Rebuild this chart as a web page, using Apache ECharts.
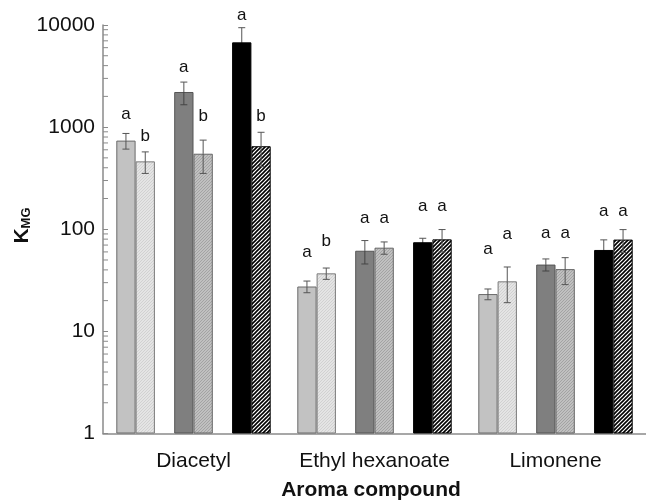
<!DOCTYPE html>
<html><head><meta charset="utf-8">
<script src="https://cdn.jsdelivr.net/npm/echarts@6/dist/echarts.min.js"></script>
<style>html,body{margin:0;padding:0;background:#fff}#c{width:646px;height:501px}</style>
</head><body><div id="c"></div>
<script>
const FONT = "'Liberation Sans', Arial, Helvetica, sans-serif";
const categories = ['Diacetyl', 'Ethyl hexanoate', 'Limonene'];
const minorTickValues = [2,3,4,5,6,7,8,9, 20,30,40,50,60,70,80,90, 200,300,400,500,600,700,800,900, 2000,3000,4000,5000,6000,7000,8000,9000];

// series values (K_MG), ± error, significance letters, letter anchor heights
const s1 = [738, 27.5, 23.2];   const e1 = [129, 3.6, 2.8];   const l1 = ['a','a','a']; const h1 = [1341, 59, 63];
const s2 = [462, 37, 30.9];     const e2 = [110, 4.7, 11.8];  const l2 = ['b','b','a']; const h2 = [816, 76, 89];
const s3 = [2208, 61.6, 45.1];  const e3 = [553, 15.9, 6.1];  const l3 = ['a','a','a']; const h3 = [3874, 129, 91];
const s4 = [549, 66, 40.7];     const e4 = [197, 9.1, 12];    const l4 = ['b','a','a']; const h4 = [1262, 129, 91];
const s5 = [6761, 74.6, 62.7];  const e5 = [2650, 7, 16];     const l5 = ['a','a','a']; const h5 = [12340, 169, 151];
const s6 = [650, 79.6, 79.2];   const e6 = [240, 19.7, 20];   const l6 = ['b','a','a']; const h6 = [1262, 169, 151];

function hatch(bg, fg, size, lw) {
  const c = document.createElement('canvas'); c.width = c.height = size;
  const g = c.getContext('2d');
  g.fillStyle = bg; g.fillRect(0, 0, size, size);
  g.strokeStyle = fg; g.lineWidth = lw; g.beginPath();
  g.moveTo(0, size); g.lineTo(size, 0);
  g.moveTo(-size/2, size/2); g.lineTo(size/2, -size/2);
  g.moveTo(size/2, size*1.5); g.lineTo(size*1.5, size/2);
  g.stroke();
  return c;
}

const BW = 19.3;
const defs = [
  {vals: s1, errs: e1, let: l1, lh: h1, slot: 0, color: '#c2c2c2', border: '#6a6a6a', low: '#555'},
  {vals: s2, errs: e2, let: l2, lh: h2, slot: 1, color: {image: hatch('#e4e4e4', '#cbcbcb', 3, 0.8), repeat: 'repeat'}, border: '#7a7a7a', low: '#555'},
  {vals: s3, errs: e3, let: l3, lh: h3, slot: 3, color: '#7f7f7f', border: '#555', low: '#444'},
  {vals: s4, errs: e4, let: l4, lh: h4, slot: 4, color: {image: hatch('#c0c0c0', '#9c9c9c', 3, 0.8), repeat: 'repeat'}, border: '#666', low: '#555'},
  {vals: s5, errs: e5, let: l5, lh: h5, slot: 6, color: '#000', border: '#000', low: '#000'},
  {vals: s6, errs: e6, let: l6, lh: h6, slot: 7, color: {image: hatch('#ffffff', '#000000', 4, 1.6), repeat: 'repeat'}, border: '#000', low: '#555'}
];

const series = [];
// 8 bar slots per category (slots 2 and 5 are spacers)
for (let slot = 0; slot < 8; slot++) {
  const d = defs.find(x => x.slot === slot);
  series.push({
    type: 'bar', name: d ? 'S' + (defs.indexOf(d) + 1) : '',
    data: d ? d.vals.slice() : [null, null, null],
    barWidth: BW, barGap: '0%',
    itemStyle: d ? {color: d.color, borderColor: d.border, borderWidth: 1} : {},
    silent: true, z: 2
  });
}
// error bars + letters
defs.forEach(d => {
  series.push({
    type: 'custom', clip: false, z: 5, silent: true,
    data: d.vals.map((v, i) => [i, v, d.errs[i], d.lh[i]]),
    renderItem: function (params, api) {
      const ci = api.value(0), v = api.value(1), e = api.value(2), lh = api.value(3);
      const x = api.coord([ci, v])[0] + (d.slot - 3.5) * BW;
      const yv = api.coord([ci, v])[1];
      const yt = api.coord([ci, v + e])[1];
      const yb = api.coord([ci, Math.max(v - e, 1)])[1];
      const yl = api.coord([ci, lh])[1];
      const cw = 3.5;
      const st = {stroke: '#555', lineWidth: 1};
      return {type: 'group', children: [
        {type: 'line', shape: {x1: x, y1: yt, x2: x, y2: yv}, style: st},
        {type: 'line', shape: {x1: x - cw, y1: yt, x2: x + cw, y2: yt}, style: st},
        {type: 'line', shape: {x1: x, y1: yv, x2: x, y2: yb}, style: {stroke: d.low, lineWidth: 1}},
        {type: 'line', shape: {x1: x - cw, y1: yb, x2: x + cw, y2: yb}, style: {stroke: d.low, lineWidth: 1}},
        {type: 'text', x: x, y: yl, style: {text: d.let[params.dataIndex], fontSize: 17, fontFamily: FONT, fill: '#111', align: 'center', verticalAlign: 'middle'}}
      ]};
    }
  });
});
// log minor ticks (inside)
series.push({
  type: 'custom', clip: false, z: 6, silent: true,
  data: minorTickValues.map(v => [0, v]),
  renderItem: function (params, api) {
    const y = api.coord([0, api.value(1)])[1];
    const x0 = params.coordSys.x;
    return {type: 'line', shape: {x1: x0, y1: y, x2: x0 + 5, y2: y}, style: {stroke: '#8a8a8a', lineWidth: 1}};
  }
});

const chart = echarts.init(document.getElementById('c'), null, {renderer: 'canvas'});
chart.setOption({
  animation: false,
  backgroundColor: '#fff',
  grid: {left: 103, top: 25, width: 554, height: 408.5, containLabel: false},
  xAxis: {
    type: 'category', data: categories,
    axisLine: {lineStyle: {color: '#8a8a8a', width: 1.5}},
    axisTick: {show: false},
    axisLabel: {fontSize: 21, fontFamily: FONT, color: '#111', margin: 17, lineHeight: 21, interval: 0},
    splitLine: {show: false}
  },
  yAxis: {
    type: 'log', logBase: 10, min: 1, max: 10000,
    axisLine: {show: true, lineStyle: {color: '#8a8a8a', width: 1.5}},
    axisTick: {show: true, inside: true, length: 5, lineStyle: {color: '#8a8a8a'}},
    axisLabel: {fontSize: 21, fontFamily: FONT, color: '#111', margin: 8, formatter: v => String(Math.round(v))},
    splitLine: {show: false}
  },
  graphic: [
    {type: 'text', x: 22.5, y: 225.5, rotation: Math.PI / 2,
     style: {text: '{k|K}{s|MG}', align: 'center', verticalAlign: 'middle',
       rich: {k: {fontSize: 21, fontWeight: 'bold', fontFamily: FONT, fill: '#111', lineHeight: 21, verticalAlign: 'bottom'},
              s: {fontSize: 13, fontWeight: 'bold', fontFamily: FONT, fill: '#111', lineHeight: 16, verticalAlign: 'bottom'}}}},
    {type: 'text', x: 371, y: 490,
     style: {text: 'Aroma compound', fontSize: 21, fontWeight: 'bold', fontFamily: FONT, fill: '#111', align: 'center', verticalAlign: 'middle'}}
  ],
  series: series
});
</script></body></html>
